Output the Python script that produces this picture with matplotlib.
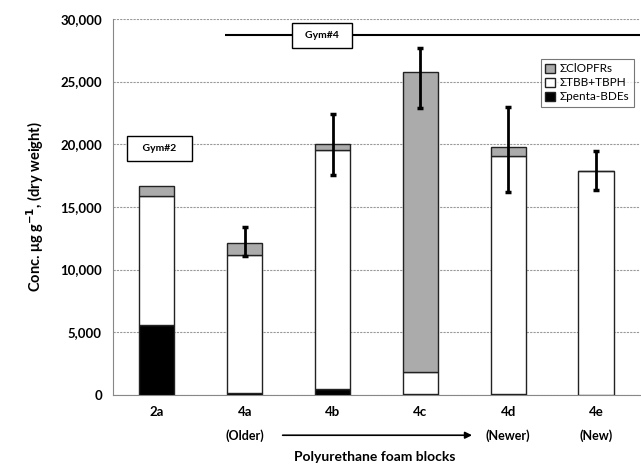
import numpy as np
import matplotlib
matplotlib.use("Agg")
from matplotlib import pyplot as plt
from matplotlib.patches import Patch

plt.rcParams['font.family'] = ['Lato', 'DejaVu Sans']

# Foam block samples and their flame retardant loads (ug/g dry weight)
categories = ['2a', '4a', '4b', '4c', '4d', '4e']
ages = ['', '(Older)', '', '', '(Newer)', '(New)']
penta_bdes = [5600, 150, 500, 50, 80, 0]
tbb_tbph = [10300, 11000, 19000, 1750, 19000, 17900]
clopfrs = [800, 1000, 500, 24000, 730, 0]
err_low = [np.nan, 1050, 2450, 2900, 3650, 1550]
err_high = [np.nan, 1250, 2450, 1900, 3150, 1550]
yticks = [0, 5000, 10000, 15000, 20000, 25000, 30000]

x = np.arange(len(categories))
penta = np.array(penta_bdes)
tbb = np.array(tbb_tbph)
clo = np.array(clopfrs)
totals = penta + tbb + clo

fig = plt.figure(figsize=(6.41, 4.69), dpi=100)
ax = fig.add_axes([0.1763, 0.158, 0.822, 0.8017])

w = 0.4
ax.bar(x, penta, w, color='black', edgecolor='#222222', linewidth=1, zorder=3)
ax.bar(x, tbb, w, bottom=penta, color='white', edgecolor='#222222', linewidth=1, zorder=3)
ax.bar(x, clo, w, bottom=penta + tbb, color='#ababab', edgecolor='#222222', linewidth=1, zorder=3)
ax.errorbar(x, totals, yerr=[err_low, err_high], fmt='none', ecolor='black',
            elinewidth=2, capsize=2, capthick=2.5, zorder=4)

ax.set_xlim(-0.5, 5.5)
ax.set_ylim(0, 30000)
ax.set_yticks(yticks)
ax.set_yticklabels(['{:,}'.format(v) for v in yticks], fontweight='bold', fontsize=9.5)
ax.set_xticks(x)
ax.set_xticklabels(categories, fontweight='bold', fontsize=9.5)
ax.tick_params(length=0, pad=8)
ax.yaxis.grid(True, color='#999999', linestyle=(0, (2, 1)), linewidth=0.8, zorder=0)
for side in ['top', 'right']:
    ax.spines[side].set_visible(False)
for side in ['left', 'bottom']:
    ax.spines[side].set_color('#888888')
    ax.spines[side].set_linewidth(0.8)

ax.set_ylabel('Conc. μg g$^{\\mathbf{-1}}$, (dry weight)', fontweight='bold', fontsize=10.5, labelpad=10)
fig.text(0.5 + 0.17 / 2, 0.017, 'Polyurethane foam blocks', ha='center', fontweight='bold', fontsize=10)

# Age labels under the tick labels, with an arrow from older to newer
for xi, lab in zip(x, ages):
    if lab:
        ax.annotate(lab, xy=(xi, 0.072), xycoords=('data', 'figure fraction'),
                    ha='center', va='center', fontweight='bold', fontsize=9)
ax.annotate('', xy=(3.62, 0.072), xytext=(1.4, 0.072),
            xycoords=('data', 'figure fraction'), textcoords=('data', 'figure fraction'),
            arrowprops=dict(arrowstyle='-|>', color='black', lw=1.2, mutation_scale=10))

# Gym markers
ax.hlines(28700, 0.78, 5.5, color='black', linewidth=1.5, zorder=2)
box = dict(boxstyle='square,pad=0.75', facecolor='white', edgecolor='black', linewidth=1)
ax.text(1.88, 28700, '  Gym#4  ', ha='center', va='center', fontsize=7.5, fontweight='bold', bbox=box, zorder=5)
ax.text(0.03, 19650, '   Gym#2   ', ha='center', va='center', fontsize=7.5, fontweight='bold',
        bbox=box, zorder=5)

handles = [Patch(facecolor='#ababab', edgecolor='#222222', label='ΣClOPFRs'),
           Patch(facecolor='white', edgecolor='#222222', label='ΣTBB+TBPH'),
           Patch(facecolor='black', edgecolor='#222222', label='Σpenta-BDEs')]
leg = ax.legend(handles=handles, loc='upper right', bbox_to_anchor=(1.0, 0.91), fontsize=8.5,
                frameon=True, fancybox=False, edgecolor='#555555', handlelength=0.8, handleheight=0.8,
                handletextpad=0.4, borderpad=0.4, labelspacing=0.25)
leg.get_frame().set_linewidth(0.8)

plt.savefig('out.png', dpi=100)
